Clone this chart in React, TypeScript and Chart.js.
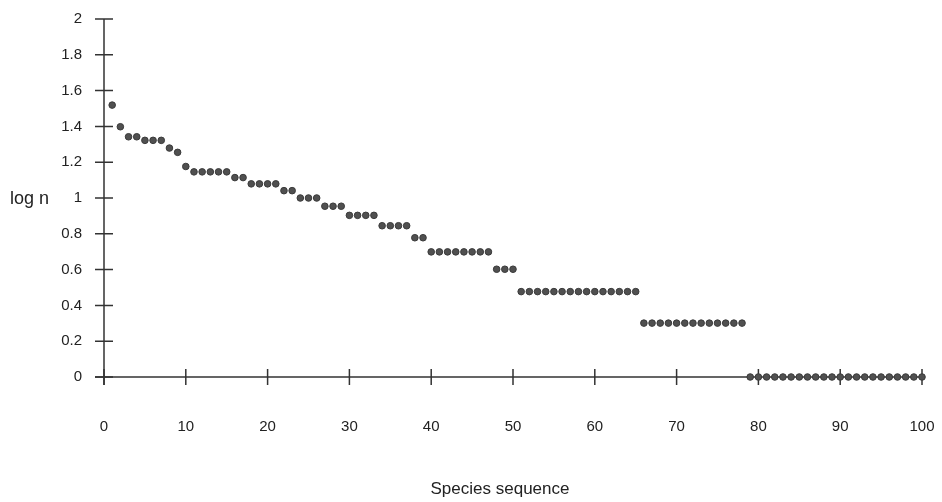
import React, { useEffect, useRef } from "react";
import { Chart, registerables } from "chart.js";

Chart.register(...registerables);

// log n for each species in rank order (species 1..100)
const logN: number[] = [
  1.519, 1.398, 1.342, 1.342, 1.322, 1.322, 1.322, 1.279, 1.255, 1.176,
  1.146, 1.146, 1.146, 1.146, 1.146, 1.114, 1.114, 1.079, 1.079, 1.079,
  1.079, 1.041, 1.041, 1.0, 1.0, 1.0, 0.954, 0.954, 0.954, 0.903,
  0.903, 0.903, 0.903, 0.845, 0.845, 0.845, 0.845, 0.778, 0.778, 0.699,
  0.699, 0.699, 0.699, 0.699, 0.699, 0.699, 0.699, 0.602, 0.602, 0.602,
  0.477, 0.477, 0.477, 0.477, 0.477, 0.477, 0.477, 0.477, 0.477, 0.477,
  0.477, 0.477, 0.477, 0.477, 0.477, 0.301, 0.301, 0.301, 0.301, 0.301,
  0.301, 0.301, 0.301, 0.301, 0.301, 0.301, 0.301, 0.301, 0, 0,
  0, 0, 0, 0, 0, 0, 0, 0, 0, 0,
  0, 0, 0, 0, 0, 0, 0, 0, 0, 0,
];

const xTitle = "Species sequence";
const yTitle = "log n";
const xMin = 0;
const xMax = 100;
const xStep = 10;
const yMin = 0;
const yMax = 2;
const yStep = 0.2;

const FONT = "'Liberation Sans', Arial, Helvetica, sans-serif";
const INK = "#333333";
const TEXT = "#222222";

const axesPlugin = {
  id: "crossAxes",
  beforeDatasetsDraw(chart: any) {
    const ctx = chart.ctx;
    const xs = chart.scales.x;
    const ys = chart.scales.y;
    const x0 = xs.getPixelForValue(xMin);
    const x1 = xs.getPixelForValue(xMax);
    const y0 = ys.getPixelForValue(yMin);
    const y1 = ys.getPixelForValue(yMax);
    ctx.save();
    ctx.strokeStyle = INK;
    ctx.lineWidth = 1.5;
    ctx.beginPath();
    // y axis
    ctx.moveTo(x0, y1);
    ctx.lineTo(x0, y0 + 8);
    // x axis
    ctx.moveTo(x0 - 9, y0);
    ctx.lineTo(x1, y0);
    ctx.stroke();
    ctx.beginPath();
    ys.ticks.forEach((t: any) => {
      const py = ys.getPixelForValue(t.value);
      ctx.moveTo(x0 - 9, py);
      ctx.lineTo(x0 + 9, py);
    });
    xs.ticks.forEach((t: any) => {
      const px = xs.getPixelForValue(t.value);
      ctx.moveTo(px, y0 - 8);
      ctx.lineTo(px, y0 + 8);
    });
    ctx.stroke();
    ctx.restore();
  },
  afterDraw(chart: any) {
    const ctx = chart.ctx;
    ctx.save();
    ctx.fillStyle = TEXT;
    ctx.font = `18px ${FONT}`;
    ctx.textAlign = "left";
    ctx.textBaseline = "middle";
    ctx.fillText(yTitle, 10, 199);
    ctx.font = `17px ${FONT}`;
    ctx.textAlign = "center";
    ctx.fillText(xTitle, 500, 489);
    ctx.restore();
  },
};

export default function App() {
  const ref = useRef<HTMLCanvasElement | null>(null);
  useEffect(() => {
    if (!ref.current) return;
    const chart = new Chart(ref.current, {
      type: "scatter",
      data: {
        datasets: [
          {
            data: logN.map((v, i) => ({ x: i + 1, y: v })),
            backgroundColor: "#505050",
            borderColor: "#3a3a3a",
            borderWidth: 1,
            pointRadius: 3.3,
            pointStyle: "circle",
            clip: false as any,
          },
        ],
      },
      plugins: [axesPlugin],
      options: {
        animation: false,
        responsive: true,
        maintainAspectRatio: false,
        layout: { padding: { top: 19, right: 20, left: 0, bottom: 0 } },
        plugins: {
          legend: { display: false },
          tooltip: { enabled: false },
        },
        scales: {
          x: {
            type: "linear",
            min: xMin,
            max: xMax,
            grid: { display: false, drawTicks: false },
            border: { display: false },
            ticks: {
              stepSize: xStep,
              padding: 41,
              color: TEXT,
              maxRotation: 0,
              font: { family: FONT, size: 15 },
            },
            afterFit(scale: any) {
              scale.height = 125;
              scale.paddingLeft = 0;
              scale.paddingRight = 0;
            },
          },
          y: {
            type: "linear",
            min: yMin,
            max: yMax,
            grid: { display: false, drawTicks: false },
            border: { display: false },
            ticks: {
              stepSize: yStep,
              padding: 22,
              color: TEXT,
              font: { family: FONT, size: 15 },
              callback: (v: any) => String(Number(Number(v).toFixed(1))),
            },
            afterFit(scale: any) {
              scale.width = 104;
              scale.paddingTop = 0;
              scale.paddingBottom = 0;
            },
          },
        },
      },
    });
    return () => chart.destroy();
  }, []);
  return (
    <div style={{ position: "absolute", left: 0, top: 0, width: 942, height: 502, background: "#fff" }}>
      <canvas ref={ref} />
    </div>
  );
}
